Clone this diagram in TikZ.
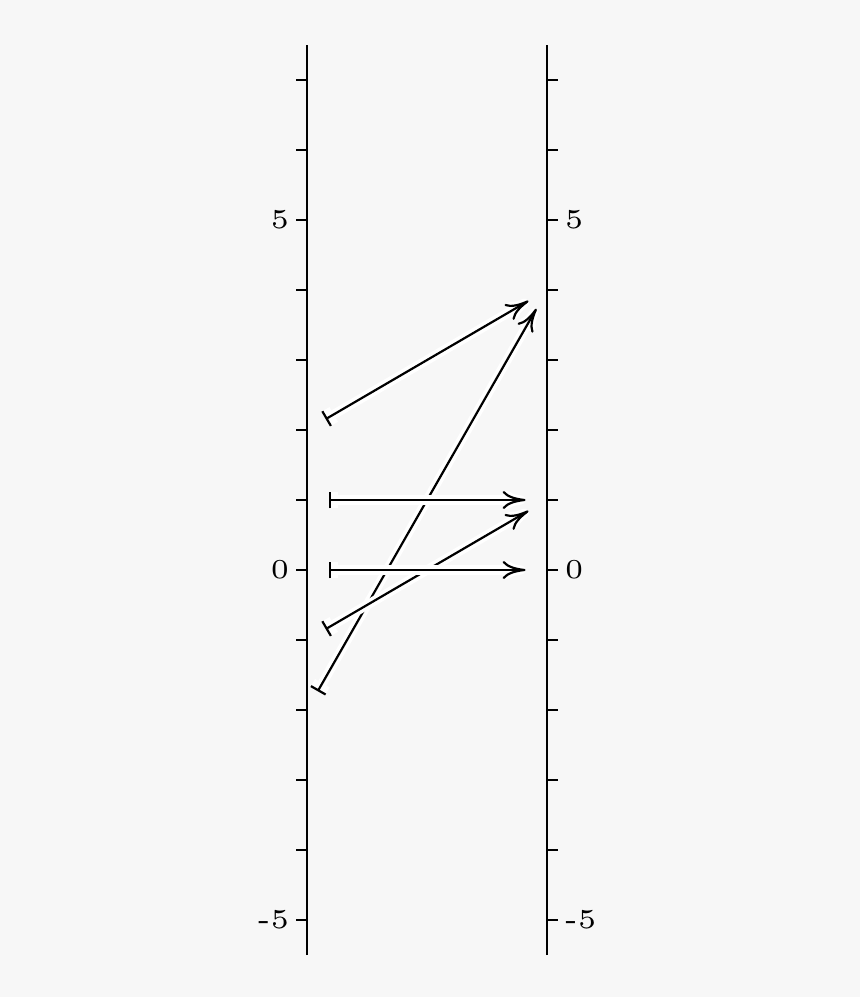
\documentclass[tikz,border=0pt]{standalone}
\usepackage{tikz}
\usepackage{graphicx}
\usetikzlibrary{arrows.meta}
\definecolor{bgcol}{HTML}{F7F7F7}
\newcommand{\ticknum}[1]{\scalebox{2}{\fontsize{5}{6}\selectfont #1}}

\tikzset{
    axis/.style={line width=0.85pt},
    ticklabel/.style={inner sep=2.3pt},
    mapsto/.style={line width=0.8pt, {Bar[width=6.2pt]}-{To[length=8.4pt,width=6.6pt]},
        shorten <=7.9pt, shorten >=7.9pt,
        preaction={draw=white, line width=3.4pt}},
}

\begin{document}
\begin{tikzpicture}[x=0.9cm, y=0.9cm]
        \fill[bgcol] (-4.386, -6.1) rectangle (7.9, 8.143);
        \draw[axis] (0, -5.5) -- (0, 7.5);
        \draw[axis] (3.43, -5.5) -- (3.43, 7.5);
        \foreach \y in {-5,...,7} {
            \draw[axis] (0, \y) -- ++(-0.157, 0);
            \draw[axis] (3.43, \y) -- ++(0.157, 0);
        }
        \node[ticklabel, left] (l5) at (-0.157, 5) {\ticknum{5}};
        \node[ticklabel, left] (l0) at (-0.157, 0) {\ticknum{0}};
        \node[ticklabel, left] (lm5) at (-0.157, -5) {\ticknum{-5}};
        \node[ticklabel, right] (r5) at (3.587, 5) {\ticknum{5}};
        \node[ticklabel, right] (r0) at (3.587, 0) {\ticknum{0}};
        \node[ticklabel, right] (rm5) at (3.587, -5) {\ticknum{-5}};
        \coordinate (x2) at (0, 2);
        \coordinate (x1) at (0, 1);
        \coordinate (x0) at (0, 0);
        \coordinate (xm1) at (0, -1);
        \coordinate (xm2) at (0, -2);
        \coordinate (y4) at (3.43, 4);
        \coordinate (y1) at (3.43, 1);
        \coordinate (y0) at (3.43, 0);
        \draw[mapsto] (xm2) -- (y4);
        \draw[mapsto] (xm1) -- (y1);
        \draw[mapsto] (x0) -- (y0);
        \draw[mapsto] (x1) -- (y1);
        \draw[mapsto] (x2) -- (y4);
      \end{tikzpicture}
\end{document}
